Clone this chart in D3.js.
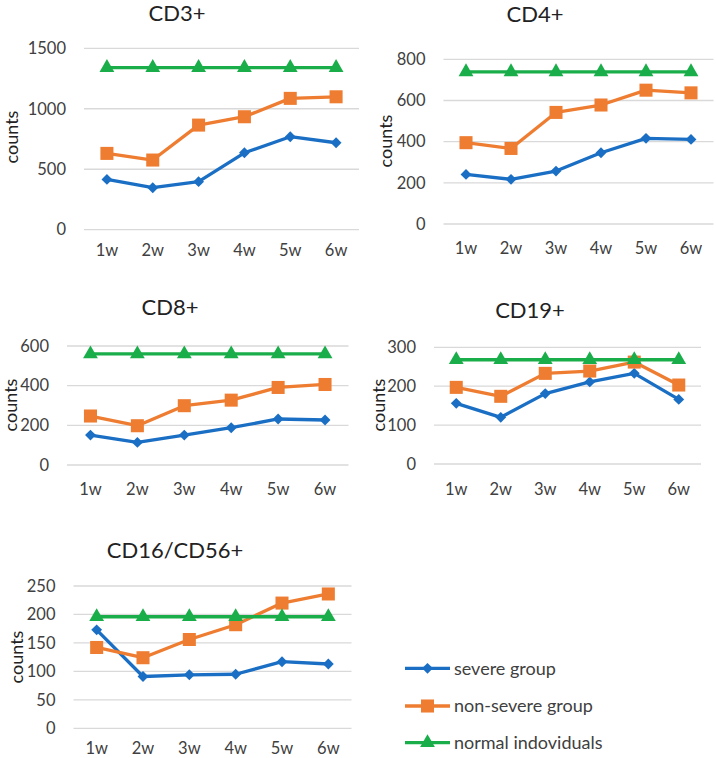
<!DOCTYPE html>
<html>
<head>
<meta charset="utf-8">
<script src="https://cdn.jsdelivr.net/npm/d3@7"></script>
<style>
  body { margin: 0; background: #fff; }
  svg { display: block; font-family: Lato, "Liberation Sans", sans-serif; }
</style>
</head>
<body>
<div id="chart"></div>
<script>
// weeks after onset
const weeks = ["1w", "2w", "3w", "4w", "5w", "6w"];

const seriesNames = ["severe group", "non-severe group", "normal indoviduals"];
const seriesColors = ["#1a6fc4", "#ee7d31", "#1aae4a"];

// values
const cd3Severe    = [416, 347, 397, 636, 769, 719];
const cd3NonSevere = [631, 576, 865, 934, 1086, 1099];
const cd3Normal    = [1340, 1340, 1340, 1340, 1340, 1340];

const cd4Severe    = [241, 217, 257, 346, 416, 411];
const cd4NonSevere = [395, 367, 542, 578, 650, 637];
const cd4Normal    = [739, 739, 739, 739, 739, 739];

const cd8Severe    = [151, 114, 151, 188, 232, 227];
const cd8NonSevere = [247, 198, 299, 327, 391, 406];
const cd8Normal    = [560, 560, 560, 560, 560, 560];

const cd19Severe    = [156, 120, 181, 211, 233, 166];
const cd19NonSevere = [197, 174, 233, 239, 262, 203];
const cd19Normal    = [268, 268, 268, 268, 268, 268];

const nkSevere    = [173, 91, 94, 95, 117, 113];
const nkNonSevere = [142, 124, 156, 182, 220, 236];
const nkNormal    = [196, 196, 196, 196, 196, 196];

// panel layout (pixel boxes only)
const panels = [
  { title: "CD3+", data: [cd3Severe, cd3NonSevere, cd3Normal], ticks: [0, 500, 1000, 1500],
    x0: 84, x1: 359, y0: 229.7, y1: 48.3, titleX: 177, titleY: 21, labelX: 12, labelY: 137, xlabY: 256 },
  { title: "CD4+", data: [cd4Severe, cd4NonSevere, cd4Normal], ticks: [0, 200, 400, 600, 800],
    x0: 443.5, x1: 713.5, y0: 224, y1: 59.3, titleX: 535, titleY: 22, labelX: 386, labelY: 141, xlabY: 254 },
  { title: "CD8+", data: [cd8Severe, cd8NonSevere, cd8Normal], ticks: [0, 200, 400, 600],
    x0: 67, x1: 348.5, y0: 465, y1: 346, titleX: 170, titleY: 315, labelX: 11, labelY: 405, xlabY: 495 },
  { title: "CD19+", data: [cd19Severe, cd19NonSevere, cd19Normal], ticks: [0, 100, 200, 300],
    x0: 434, x1: 701, y0: 464, y1: 347.3, titleX: 530, titleY: 318, labelX: 379, labelY: 405, xlabY: 495 },
  { title: "CD16/CD56+", data: [nkSevere, nkNonSevere, nkNormal], ticks: [0, 50, 100, 150, 200, 250],
    x0: 73.5, x1: 351.5, y0: 728.3, y1: 586, titleX: 175, titleY: 558, labelX: 17, labelY: 657, xlabY: 754 }
];

const W = 716, H = 758;
const textColor = "#404040";

const svg = d3.select("#chart").append("svg")
  .attr("width", W)
  .attr("height", H);

const symbols = [
  d3.symbol().type(d3.symbolDiamond2).size(75),
  d3.symbol().type(d3.symbolSquare).size(170),
  d3.symbol().type(d3.symbolTriangle).size(95)
];

panels.forEach(function(p) {
  const g = svg.append("g");

  const x = d3.scalePoint()
    .domain(weeks)
    .range([p.x0, p.x1])
    .padding(0.5);

  const y = d3.scaleLinear()
    .domain([0, d3.max(p.ticks)])
    .range([p.y0, p.y1]);

  // gridlines
  g.selectAll(".grid")
    .data(p.ticks)
    .enter()
    .append("line")
    .attr("x1", p.x0)
    .attr("x2", p.x1)
    .attr("y1", d => y(d))
    .attr("y2", d => y(d))
    .attr("stroke", "#d9d9d9")
    .attr("stroke-width", 1.3);

  // y tick labels
  g.selectAll(".ytick")
    .data(p.ticks)
    .enter()
    .append("text")
    .attr("x", p.x0 - 18)
    .attr("y", d => y(d))
    .attr("dy", "0.35em")
    .attr("text-anchor", "end")
    .attr("font-size", 16.5)
    .attr("fill", textColor)
    .text(d => d);

  // x tick labels
  g.selectAll(".xtick")
    .data(weeks)
    .enter()
    .append("text")
    .attr("x", d => x(d))
    .attr("y", p.xlabY)
    .attr("text-anchor", "middle")
    .attr("font-size", 16.5)
    .attr("fill", textColor)
    .text(d => d);

  // axis title
  g.append("text")
    .attr("transform", "translate(" + p.labelX + "," + p.labelY + ") rotate(-90)")
    .attr("dy", "0.35em")
    .attr("text-anchor", "middle")
    .attr("font-size", 18)
    .attr("fill", "#222")
    .text("counts");

  // chart title
  g.append("text")
    .attr("x", p.titleX)
    .attr("y", p.titleY)
    .attr("text-anchor", "middle")
    .attr("font-size", 22)
    .attr("fill", "#222")
    .text(p.title);

  const line = d3.line()
    .x((d, i) => x(weeks[i]))
    .y(d => y(d));

  p.data.forEach(function(vals, s) {
    g.append("path")
      .datum(vals)
      .attr("d", line)
      .attr("fill", "none")
      .attr("stroke", seriesColors[s])
      .attr("stroke-width", 3.3)
      .attr("stroke-linejoin", "round");

    g.selectAll(".m" + s)
      .data(vals)
      .enter()
      .append("path")
      .attr("d", symbols[s])
      .attr("transform", (d, i) => "translate(" + x(weeks[i]) + "," + y(d) + ")")
      .attr("fill", seriesColors[s]);
  });
});

// legend
const legendY = [668.3, 706, 742.7];
const legend = svg.append("g");
seriesNames.forEach(function(name, s) {
  const row = legend.append("g").attr("transform", "translate(0," + legendY[s] + ")");
  row.append("line")
    .attr("x1", 405)
    .attr("x2", 450)
    .attr("stroke", seriesColors[s])
    .attr("stroke-width", 3.3);
  row.append("path")
    .attr("d", symbols[s])
    .attr("transform", "translate(427.5,0)")
    .attr("fill", seriesColors[s]);
  row.append("text")
    .attr("x", 454)
    .attr("dy", "0.35em")
    .attr("font-size", 18)
    .attr("fill", textColor)
    .text(name);
});
</script>
</body>
</html>
